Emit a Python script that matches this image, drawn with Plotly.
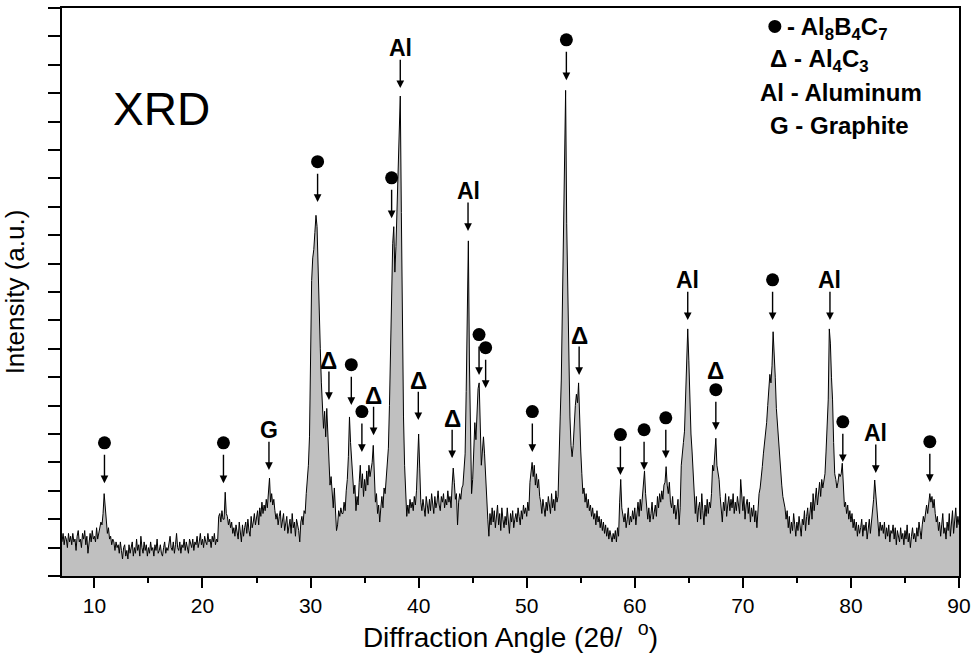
import numpy as np
import plotly.graph_objects as go

# XRD pattern, intensity every 0.1 deg from 7.0 to 90.0
intensity = [
    1.2, 1.5, 1.1, 1.4, 1.3, 1.0, 1.5, 1.2, 1.4, 1.1,   # 7
    1.5, 1.2, 1.3, 0.9, 1.4, 1.6, 1.2, 1.3, 1.0, 1.5,   # 8
    1.3, 1.6, 1.1, 1.4, 0.8, 1.3, 1.5, 1.2, 1.6, 1.3,   # 9
    1.4, 1.2, 1.7, 1.3, 1.5, 1.6, 1.9, 1.8, 2.2, 2.9,   # 10
    2.4, 1.9, 1.5, 1.7, 1.3, 1.4, 1.1, 1.3, 1.2, 0.9,   # 11
    1.2, 1.0, 1.1, 0.8, 1.2, 0.9, 0.6, 1.0, 1.1, 0.7,   # 12
    0.9, 0.6, 1.1, 0.8, 1.0, 1.2, 0.7, 1.0, 0.8, 1.3,   # 13
    0.9, 1.1, 0.7, 1.4, 1.0, 0.8, 1.2, 0.9, 1.1, 0.7,   # 14
    1.0, 0.8, 1.2, 0.9, 1.0, 0.7, 1.1, 0.9, 1.3, 0.8,   # 15
    0.9, 1.1, 0.8, 0.7, 1.0, 1.2, 0.8, 1.0, 0.9, 1.1,   # 16
    1.4, 1.0, 0.9, 1.2, 0.8, 1.1, 1.5, 1.0, 0.9, 1.2,   # 17
    0.8, 1.1, 1.0, 1.3, 0.9, 1.2, 1.0, 0.8, 1.3, 1.1,   # 18
    1.0, 1.3, 0.9, 1.2, 1.1, 1.4, 1.0, 1.2, 1.5, 1.1,   # 19
    1.3, 1.0, 1.4, 1.2, 1.1, 1.5, 1.2, 1.3, 1.0, 1.4,   # 20
    1.2, 1.5, 1.1, 1.3, 1.2, 2.1, 2.2, 1.9, 2.3, 2.0,   # 21
    2.0, 2.95, 2.2, 2.1, 1.8, 2.0, 1.7, 1.9, 1.5, 1.7,  # 22
    1.4, 1.8, 1.5, 1.3, 1.9, 1.6, 1.2, 1.8, 1.4, 1.7,   # 23
    1.9, 1.5, 2.0, 1.6, 1.4, 2.1, 1.7, 1.9, 2.2, 1.8,   # 24
    2.0, 2.3, 1.8, 2.4, 2.1, 2.6, 2.2, 2.5, 2.3, 2.7,   # 25
    2.4, 2.8, 3.45, 2.6, 2.9, 2.5, 2.7, 2.3, 2.0, 2.2,  # 26
    1.8, 2.1, 2.3, 1.7, 2.0, 2.2, 1.6, 1.9, 2.1, 1.5,   # 27
    1.8, 2.0, 1.5, 2.2, 1.7, 1.9, 1.4, 2.0, 1.8, 1.6,   # 28
    1.2, 1.9, 2.1, 1.8, 2.3, 2.2, 2.9, 3.4, 3.9, 4.9,   # 29
    8.1, 10.4, 11.2, 11.5, 12.1, 12.7, 12.3, 10.6, 9.0, 8.0,  # 30
    6.8, 6.0, 5.2, 5.8, 4.9, 5.9, 5.0, 3.7, 3.2, 3.5,   # 31
    2.9, 2.4, 3.1, 2.0, 1.6, 1.8, 2.3, 2.1, 2.4, 2.2,   # 32
    2.2, 2.6, 2.3, 3.0, 3.4, 4.2, 5.6, 4.7, 4.0, 3.3,   # 33
    2.9, 3.2, 2.3, 2.8, 2.5, 3.3, 3.9, 3.1, 3.6, 2.8,   # 34
    3.4, 3.0, 3.7, 3.2, 3.9, 3.5, 3.7, 4.0, 4.6, 3.4,   # 35
    2.6, 2.9, 2.2, 2.5, 1.9, 2.4, 2.8, 2.4, 3.1, 2.9,   # 36
    3.4, 3.9, 4.5, 6.0, 8.4, 10.3, 11.7, 12.3, 10.7, 11.6,  # 37
    13.1, 14.7, 16.0, 16.9, 12.8, 8.8, 5.6, 3.9, 2.7, 2.1,  # 38
    2.5, 2.2, 2.7, 2.4, 2.6, 2.3, 2.8, 2.5, 3.0, 4.3,   # 39
    5.0, 3.8, 2.6, 2.3, 2.7, 2.4, 2.1, 2.8, 2.5, 2.2,   # 40
    2.7, 2.3, 2.9, 2.5, 2.2, 2.8, 2.4, 2.6, 3.0, 2.5,   # 41
    2.3, 2.8, 2.6, 2.9, 2.4, 2.7, 2.5, 3.0, 2.6, 2.8,   # 42
    2.4, 3.2, 3.8, 3.3, 2.7, 2.9, 1.8, 2.6, 2.9, 2.7,   # 43
    3.1, 3.2, 3.7, 4.3, 6.5, 9.8, 11.8, 7.5, 4.7, 2.9,  # 44
    3.4, 4.5, 5.4, 4.8, 5.8, 6.6, 6.8, 5.2, 3.9, 4.4,   # 45
    4.9, 4.3, 3.4, 2.6, 2.0, 1.4, 2.2, 1.8, 2.4, 1.9,   # 46
    2.3, 1.7, 2.1, 2.5, 1.8, 2.2, 1.6, 2.4, 2.0, 1.7,   # 47
    2.1, 1.8, 2.4, 1.9, 1.5, 2.2, 1.9, 2.3, 1.7, 2.0,   # 48
    2.2, 1.9, 2.4, 2.1, 1.8, 2.3, 2.0, 2.5, 2.2, 2.4,   # 49
    2.1, 2.6, 2.3, 3.3, 3.6, 4.0, 3.5, 3.9, 3.2, 3.6,   # 50
    3.1, 3.4, 2.8, 2.6, 2.2, 2.7, 2.4, 2.1, 2.6, 2.3,   # 51
    2.8, 2.5, 2.2, 2.9, 2.4, 2.7, 2.3, 3.0, 2.6, 2.8,   # 52
    4.6, 5.6, 6.9, 9.6, 12.8, 15.4, 17.1, 12.4, 9.6, 7.2,  # 53
    5.6, 4.6, 4.2, 4.6, 5.5, 6.0, 6.4, 6.1, 6.8, 5.3,   # 54
    4.4, 3.6, 2.9, 3.1, 2.6, 2.9, 2.4, 2.7, 2.3, 2.5,   # 55
    2.1, 2.4, 2.0, 2.2, 1.8, 2.3, 1.9, 2.1, 1.7, 2.0,   # 56
    1.6, 1.9, 1.5, 1.8, 1.4, 1.7, 1.3, 1.6, 1.4, 1.2,   # 57
    1.5, 1.3, 1.6, 1.2, 1.7, 1.4, 2.6, 3.4, 2.4, 2.1,   # 58
    1.9, 2.2, 1.7, 2.0, 2.4, 1.8, 2.1, 1.9, 2.3, 2.0,   # 59
    2.4, 1.8, 2.2, 2.6, 2.1, 2.7, 2.3, 2.9, 3.2, 3.7,   # 60
    2.9, 2.3, 2.0, 2.4, 1.9, 2.2, 2.6, 2.0, 2.3, 2.5,   # 61
    2.1, 2.8, 2.4, 2.9, 2.6, 3.0, 2.7, 3.2, 3.3, 3.85,  # 62
    3.2, 2.9, 3.3, 2.6, 2.4, 2.8, 2.2, 2.5, 2.0, 2.3,   # 63
    2.7, 1.8, 2.4, 3.9, 4.2, 4.7, 5.1, 6.3, 7.8, 8.7,   # 64
    7.6, 6.2, 5.0, 4.4, 3.5, 2.7, 2.2, 2.8, 1.9, 2.4,   # 65
    2.6, 2.0, 2.9, 2.3, 1.8, 2.5, 2.1, 2.7, 2.2, 2.6,   # 66
    2.4, 2.9, 3.9, 3.7, 4.2, 4.85, 3.9, 3.6, 3.4, 2.8,  # 67
    2.2, 1.9, 2.6, 2.3, 2.9, 2.1, 2.5, 2.8, 2.3, 2.7,   # 68
    2.4, 2.9, 2.2, 2.6, 2.3, 2.8, 2.5, 2.2, 3.4, 2.6,   # 69
    2.3, 2.8, 2.0, 2.5, 2.7, 2.2, 2.6, 1.9, 2.4, 2.1,   # 70
    2.5, 1.9, 2.3, 1.7, 2.6, 2.9, 3.1, 3.4, 3.85, 4.3,  # 71
    4.6, 5.0, 5.4, 6.0, 6.5, 7.1, 6.8, 7.4, 8.6, 8.0,   # 72
    7.0, 5.9, 5.3, 4.6, 4.1, 3.5, 3.2, 2.8, 2.6, 2.4,   # 73
    2.0, 2.3, 1.7, 2.1, 1.5, 1.9, 1.6, 2.2, 1.8, 1.4,   # 74
    1.9, 1.6, 2.1, 1.7, 1.4, 2.0, 1.8, 2.3, 1.6, 2.1,   # 75
    2.4, 1.8, 2.2, 2.6, 2.0, 2.9, 2.3, 2.7, 3.1, 2.5,   # 76
    2.9, 3.3, 2.8, 3.4, 3.1, 3.3, 3.6, 4.4, 5.3, 6.2,   # 77
    8.7, 8.2, 7.0, 6.2, 4.7, 3.6, 3.4, 3.1, 3.3, 3.6,   # 78
    3.5, 3.6, 3.97, 3.0, 2.44, 2.6, 2.2, 2.5, 2.0, 2.3,  # 79
    1.9, 2.2, 1.7, 2.0, 1.6, 1.9, 1.4, 1.8, 1.5, 1.7,   # 80
    2.0, 1.4, 1.8, 1.6, 1.9, 1.3, 1.7, 2.0, 1.5, 1.9,   # 81
    2.3, 2.7, 3.38, 2.9, 2.4, 1.8, 1.4, 1.9, 1.6, 1.8,  # 82
    1.5, 1.9, 1.3, 1.7, 1.4, 1.8, 1.2, 1.6, 1.5, 1.8,   # 83
    1.3, 1.7, 1.1, 1.6, 1.4, 1.2, 1.7, 1.3, 1.5, 1.1,   # 84
    1.6, 1.3, 1.8, 1.2, 1.5, 1.0, 1.4, 1.7, 1.3, 1.5,   # 85
    1.2, 1.7, 1.4, 1.9, 1.6, 1.3, 1.8, 2.1, 1.9, 2.3,   # 86
    2.5, 2.2, 2.7, 2.9, 2.6, 2.8, 2.4, 2.7, 2.2, 1.9,   # 87
    2.1, 1.6, 1.9, 1.4, 1.8, 2.2, 1.5, 1.7, 1.3, 1.9,   # 88
    1.6, 2.2, 1.4, 1.8, 2.3, 1.5, 1.9, 2.4, 1.7, 2.1,   # 89
    1.8,
]
angle = np.round(7.0 + 0.1 * np.arange(len(intensity)), 1)

# phase markers: peak position, where the arrow points, which phase
peak_x = [10.93, 21.94, 26.15, 30.65, 31.7, 33.77, 34.75, 35.83, 37.5, 38.3,
          39.97, 43.1, 44.57, 45.59, 46.2, 50.52, 53.67, 54.85, 58.67, 60.86,
          62.87, 64.9, 67.5, 72.75, 78.06, 79.25, 82.3, 87.3]
peak_tip = [3.27, 3.27, 3.73, 13.17, 6.2, 6.02, 4.37, 4.96, 12.6, 17.18,
            5.49, 4.15, 12.15, 7.08, 6.62, 4.37, 17.46, 7.08, 3.56, 3.73,
            4.15, 9.01, 5.14, 9.01, 9.01, 4.01, 3.63, 3.31]
peak_phase = ['c', 'c', 'G', 'c', 't', 'c', 'c', 't', 'c', 'Al',
              't', 't', 'Al', 'c', 'c', 'c', 'c', 't', 'c', 'c',
              'c', 'Al', 'tc', 'c', 'Al', 'c', 'Al', 'c']

legend_lines = ['- Al<sub>8</sub>B<sub>4</sub>C<sub>7</sub>',
                'Δ - Al<sub>4</sub>C<sub>3</sub>',
                'Al - Aluminum',
                'G - Graphite']

FONT = 'Arial, Liberation Sans, sans-serif'
ARROW = 1.05   # arrow length in y units
GAP = 1.42     # tip -> label centre

fig = go.Figure()
fig.add_trace(go.Scatter(x=angle, y=intensity, mode='lines', fill='tozeroy',
                         fillcolor='#c0c0c0', line=dict(color='black', width=1),
                         showlegend=False, hoverinfo='skip'))

circ_x, circ_y = [], []
ann = []
for x, tip, ph in zip(peak_x, peak_tip, peak_phase):
    ann.append(dict(x=x, y=tip, ax=x, ay=tip + ARROW, axref='x', ayref='y',
                    text='', showarrow=True, arrowhead=2, arrowsize=1.1,
                    arrowwidth=1.4, arrowcolor='black', standoff=0))
    if ph == 'c':
        circ_x.append(x); circ_y.append(tip + GAP)
    elif ph == 'tc':
        circ_x.append(x); circ_y.append(tip + GAP)
        ann.append(dict(x=x, y=tip + GAP + 0.66, text='<b>Δ</b>', showarrow=False,
                        font=dict(size=24, color='black', family=FONT)))
    elif ph == 't':
        ann.append(dict(x=x, y=tip + GAP - 0.02, text='<b>Δ</b>', showarrow=False,
                        font=dict(size=24, color='black', family=FONT)))
    else:
        ann.append(dict(x=x, y=tip + GAP, text='<b>%s</b>' % ph, showarrow=False,
                        font=dict(size=23, color='black', family=FONT)))

# the key's own dot sits with the peak dots
circ_x.append(72.96); circ_y.append(19.35)

fig.add_trace(go.Scatter(x=circ_x, y=circ_y, mode='markers',
                         marker=dict(symbol='circle', size=13, color='black'),
                         showlegend=False, hoverinfo='skip'))

ann.append(dict(x=16.25, y=16.44, text='XRD', showarrow=False,
                font=dict(size=46, color='black', family=FONT)))
for i, (txt, lx) in enumerate(zip(legend_lines, [73.9, 72.3, 71.4, 72.3])):
    ann.append(dict(x=lx, y=19.28 - 1.135 * i, text='<b>%s</b>' % txt,
                    showarrow=False, xanchor='left',
                    font=dict(size=24, color='black', family=FONT)))

fig.update_layout(
    width=971, height=654,
    margin=dict(l=62, r=12, t=8, b=78, autoexpand=False),
    plot_bgcolor='white', paper_bgcolor='white',
    font=dict(family=FONT, color='black'),
    annotations=ann,
    xaxis=dict(range=[7, 90], tick0=10, dtick=10, ticks='outside', ticklen=10,
               tickwidth=1.5, tickcolor='black', showline=True, linecolor='black',
               linewidth=1.5, mirror=True, showgrid=False, zeroline=False,
               automargin=False, tickfont=dict(size=21),
               minor=dict(tick0=5, dtick=5, ticks='outside', ticklen=5,
                          tickwidth=1.5, tickcolor='black', showgrid=False),
               title=dict(text='Diffraction Angle (2θ/  <sup>o</sup>)',
                          font=dict(size=28), standoff=4)),
    yaxis=dict(range=[0, 20], dtick=1, ticks='outside', ticklen=12, tickwidth=1.5,
               tickcolor='black', showticklabels=False, showline=True,
               linecolor='black', linewidth=1.5, mirror=True, showgrid=False,
               zeroline=False, automargin=False,
               title=dict(text='Intensity (a.u.)', font=dict(size=26), standoff=16)),
)

# the page body has a default 8px margin; drop it so the figure sits at 0,0
fig.write_html('out.html', config={'displayModeBar': False},
               post_script="document.body.style.margin='0';")
